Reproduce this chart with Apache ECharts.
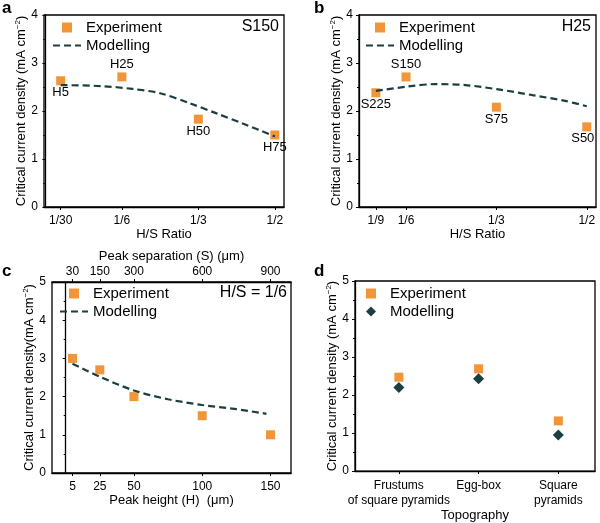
<!DOCTYPE html>
<html><head><meta charset="utf-8">
<script src="https://cdn.jsdelivr.net/npm/echarts@6/dist/echarts.min.js"></script>
<style>html,body{margin:0;padding:0;background:#fff}#c{width:600px;height:523px}</style>
</head><body><div id="c"></div>
<script>
// ---- Panel a (S150) ----
const ticksA = [1/30, 1/6, 1/3, 1/2];
const tickLabelsA = ['1/30', '1/6', '1/3', '1/2'];
const expAx = [1/30, 1/6, 1/3, 1/2];
const expAy = [2.63, 2.71, 1.83, 1.50];
const expAnames = ['H5', 'H25', 'H50', 'H75'];
const modAx = [1/30, 0.12, 0.19, 0.25, 0.315, 0.373, 0.43, 0.5];
const modAy = [2.54, 2.52, 2.46, 2.37, 2.16, 1.95, 1.74, 1.47];
// ---- Panel b (H25) ----
const ticksB = [1/9, 1/6, 1/3, 1/2];
const tickLabelsB = ['1/9', '1/6', '1/3', '1/2'];
const expBx = [1/9, 1/6, 1/3, 1/2];
const expBy = [2.38, 2.71, 2.08, 1.67];
const expBnames = ['S225', 'S150', 'S75', 'S50'];
const modBx = [1/9, 0.17, 0.22, 0.276, 0.337, 0.40, 0.46, 0.5];
const modBy = [2.42, 2.51, 2.56, 2.54, 2.45, 2.33, 2.21, 2.10];
// ---- Panel c (H/S = 1/6) ----
const ticksC = [5, 25, 50, 100, 150];
const topTicksC = [30, 150, 300, 600, 900];
const expCx = [5, 25, 50, 100, 150];
const expCy = [3.00, 2.70, 2.00, 1.50, 1.00];
const modCx = [5, 25, 50, 75, 100, 125, 147];
const modCy = [2.86, 2.52, 2.16, 1.93, 1.78, 1.67, 1.55];
// ---- Panel d (topography) ----
const topoCats = ['Frustums\nof square pyramids', 'Egg-box', 'Square\npyramids'];
const expDy = [2.47, 2.69, 1.32];
const modDy = [2.20, 2.43, 0.95];

const ORANGE = '#F0953A';
const DARK = '#1B3F40';
const FONT = 'Liberation Sans, Arial, sans-serif';
const lblPosA = ['bottom', 'top', 'bottom', 'bottom'];
const lblPosB = ['bottom', 'top', 'bottom', 'bottom'];
const lblOffB = [[0,0],[0,0],[0,0],[-4,0]];

const ICON_SQ = 'path://M0,0h10v10h-10z';
const ICON_DASH = 'path://M0,0h7v2.2h-7z M11,0h7v2.2h-7z M22,0h6v2.2h-6z';
const ICON_DIA = 'path://M5.5,0L11,5.5L5.5,11L0,5.5Z';

function pickLabel(ticks, labels) {
  return v => { const i = ticks.findIndex(t => Math.abs(t - v) < 1e-6); return i >= 0 ? labels[i] : ''; };
}
const axisLine = { show: true, lineStyle: { color: '#000', width: 1.3 } };
const tickStyle = { show: true, length: 3, lineStyle: { color: '#000', width: 1 } };
const lab = { color: '#000', fontSize: 12, fontFamily: FONT };
const nameStyle = { color: '#000', fontSize: 13, fontFamily: FONT };
const supRich = { sup: { fontSize: 8, verticalAlign: 'top', fontFamily: FONT, color: '#000', padding: [0, 0, 6, 0] } };

function yAxis(gridIndex, max, name, gap) {
  return {
    type: 'value', gridIndex, min: 0, max, interval: 1,
    axisLine, axisTick: tickStyle, splitLine: { show: false },
    minorTick: { show: true, splitNumber: 2, length: 2, lineStyle: { color: '#000' } },
    axisLabel: Object.assign({ margin: 6 }, lab),
    name, nameLocation: 'middle', nameGap: gap,
    nameTextStyle: Object.assign({ rich: supRich }, nameStyle)
  };
}
function xAxisCustom(gridIndex, min, max, ticks, labels, name, gap, extra, margin) {
  return Object.assign({
    type: 'value', gridIndex, min, max,
    axisLine, splitLine: { show: false },
    axisTick: Object.assign({ customValues: ticks }, tickStyle),
    axisLabel: Object.assign({ customValues: ticks, formatter: pickLabel(ticks, labels), margin: margin == null ? 8 : margin }, lab),
    name, nameLocation: 'middle', nameGap: gap, nameTextStyle: nameStyle
  }, extra || {});
}

const gridBase = { show: true, borderColor: '#000', borderWidth: 1.3, backgroundColor: 'transparent', containLabel: false };
function legendAt(left, top, modIcon) {
  return { left, top, padding: 0, orient: 'vertical', itemWidth: 28, itemHeight: 10, itemGap: 3,
    textStyle: { fontSize: 15, color: '#000', fontFamily: FONT },
    data: [{ name: 'Experiment', icon: ICON_SQ, itemStyle: { color: ORANGE, opacity: 1 } },
           { name: 'Modelling', icon: modIcon, itemStyle: { color: DARK } }] };
}

const option = {
  animation: false,
  backgroundColor: '#fff',
  textStyle: { fontFamily: FONT },
  grid: [
    Object.assign({ left: 44, top: 15, width: 240, height: 192 }, gridBase),
    Object.assign({ left: 359, top: 15, width: 237, height: 192 }, gridBase),
    Object.assign({ left: 52, top: 282, width: 239, height: 191 }, gridBase),
    Object.assign({ left: 355, top: 281, width: 240, height: 192 }, gridBase)
  ],
  xAxis: [
    xAxisCustom(0, -0.003, 0.52, ticksA, tickLabelsA, 'H/S Ratio', 21),
    xAxisCustom(1, 0.08, 0.517, ticksB, tickLabelsB, 'H/S Ratio', 21),
    xAxisCustom(2, -10, 165, ticksC, ticksC.map(String), 'Peak height (H)  (\u03bcm)', 20),
    xAxisCustom(2, -60, 990, topTicksC, topTicksC.map(String), 'Peak separation (S) (\u03bcm)', 19, { position: 'top' }, 4),
    xAxisCustom(3, 0.45, 3.46, [1, 2, 3], topoCats, 'Topography', 34,
      { axisLabel: Object.assign({ customValues: [1, 2, 3], formatter: pickLabel([1, 2, 3], topoCats), margin: 7, lineHeight: 15 }, lab) })
  ],
  yAxis: [
    yAxis(0, 4, 'Critical current density (mA cm{sup|\u22122})', 10),
    yAxis(1, 4, 'Critical current density (mA cm{sup|\u22122})', 11),
    yAxis(2, 5, 'Critical current density(mA cm{sup|\u22122})', 7),
    yAxis(3, 5, 'Critical current density (mA cm{sup|\u22122})', 8)
  ],
  legend: [
    legendAt(53, 20, ICON_DASH),
    legendAt(366, 20, ICON_DASH),
    legendAt(60, 286, ICON_DASH),
    legendAt(366, 286, ICON_DIA)
  ],
  graphic: [
    { type: 'text', left: 2, top: 0, style: { text: 'a', font: 'bold 17px ' + FONT, fill: '#000' } },
    { type: 'text', left: 314, top: 0, style: { text: 'b', font: 'bold 17px ' + FONT, fill: '#000' } },
    { type: 'text', left: 2, top: 263, style: { text: 'c', font: 'bold 17px ' + FONT, fill: '#000' } },
    { type: 'text', left: 314, top: 263, style: { text: 'd', font: 'bold 17px ' + FONT, fill: '#000' } },
    { type: 'text', right: 321, top: 19, style: { text: 'S150', font: '16px ' + FONT, fill: '#000' } },
    { type: 'text', right: 9, top: 19, style: { text: 'H25', font: '16px ' + FONT, fill: '#000' } },
    { type: 'text', right: 313, top: 285, style: { text: 'H/S = 1/6', font: '16px ' + FONT, fill: '#000' } }
  ],
  series: [
    { name: 'Experiment', type: 'scatter', xAxisIndex: 0, yAxisIndex: 0, symbol: 'rect', symbolSize: 9,
      itemStyle: { color: ORANGE, opacity: 1 },
      data: expAx.map((x, i) => ({ value: [x, expAy[i]], label: { position: lblPosA[i] } })),
      label: { show: true, formatter: p => expAnames[p.dataIndex], fontSize: 13, color: '#000', fontFamily: FONT, distance: 1 } },
    { name: 'Modelling', type: 'line', xAxisIndex: 0, yAxisIndex: 0, smooth: 0.3, symbol: 'none',
      lineStyle: { color: DARK, width: 2.2, type: [7, 4] }, itemStyle: { color: DARK },
      data: modAx.map((x, i) => [x, modAy[i]]) },
    { name: 'Experiment', type: 'scatter', xAxisIndex: 1, yAxisIndex: 1, symbol: 'rect', symbolSize: 9,
      itemStyle: { color: ORANGE, opacity: 1 },
      data: expBx.map((x, i) => ({ value: [x, expBy[i]], label: { position: lblPosB[i], offset: lblOffB[i] } })),
      label: { show: true, formatter: p => expBnames[p.dataIndex], fontSize: 13, color: '#000', fontFamily: FONT, distance: 1 } },
    { name: 'Modelling', type: 'line', xAxisIndex: 1, yAxisIndex: 1, smooth: 0.3, symbol: 'none',
      lineStyle: { color: DARK, width: 2.2, type: [7, 4] }, itemStyle: { color: DARK },
      data: modBx.map((x, i) => [x, modBy[i]]) },
    { name: 'Experiment', type: 'scatter', xAxisIndex: 2, yAxisIndex: 2, symbol: 'rect', symbolSize: 9,
      itemStyle: { color: ORANGE, opacity: 1 }, data: expCx.map((x, i) => [x, expCy[i]]) },
    { name: 'Modelling', type: 'line', xAxisIndex: 2, yAxisIndex: 2, smooth: 0.3, symbol: 'none',
      lineStyle: { color: DARK, width: 2.2, type: [7, 4] }, itemStyle: { color: DARK },
      data: modCx.map((x, i) => [x, modCy[i]]) },
    { name: 'Experiment', type: 'scatter', xAxisIndex: 4, yAxisIndex: 3, symbol: 'rect', symbolSize: 9,
      itemStyle: { color: ORANGE, opacity: 1 }, data: expDy.map((y, i) => [i + 1, y]) },
    { name: 'Modelling', type: 'scatter', xAxisIndex: 4, yAxisIndex: 3, symbol: 'diamond', symbolSize: 11,
      itemStyle: { color: DARK, opacity: 1 }, data: modDy.map((y, i) => [i + 1, y]) }
  ]
};
const chart = echarts.init(document.getElementById('c'), null, { renderer: 'canvas' });
chart.setOption(option);
</script>
</body></html>
